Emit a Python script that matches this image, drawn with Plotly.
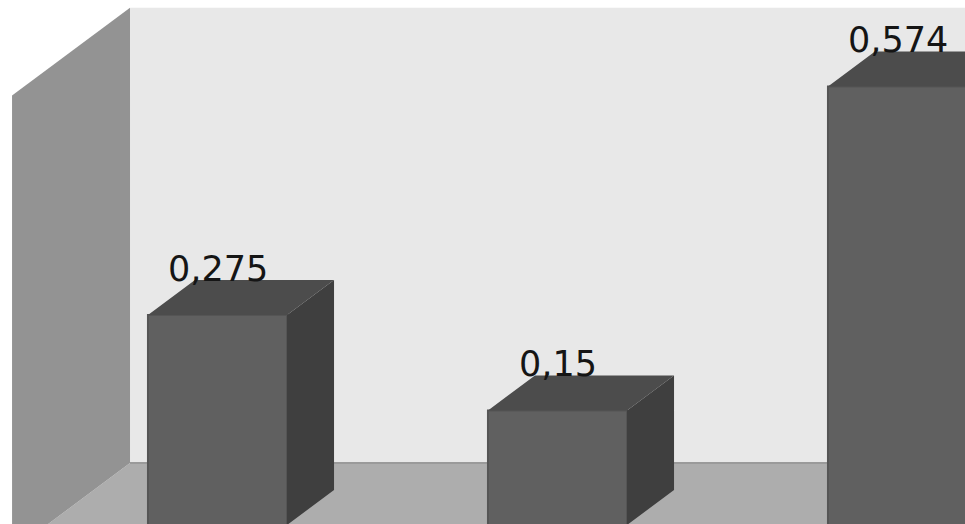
import plotly.graph_objects as go

# ---- data ----
categories = ["1", "2", "3"]
values = [0.275, 0.15, 0.574]
value_labels = ["0,275", "0,15", "0,574"]

# ---- style / geometry (oblique 3D projection) ----
BAR_W = 0.409          # bar width in category units
DX = 47 / 340          # horizontal shift per unit of depth
DY = 35 / 764          # vertical shift per unit of depth
BAR_DEPTH = 1.0
BACK_Z = 1.77          # depth of back wall
FRONT_Z = -0.74        # front edge of left wall / floor
WALL_X = -0.502        # x position of left wall
WALL_TOP = 0.596       # wall height
X_RANGE = [-0.63971, 2.19853]
Y_RANGE = [1 / 764, 525 / 764]

FRONT_C = "#606060"
TOP_C = "#4c4c4c"
SIDE_C = "#3f3f3f"
BACK_WALL_C = "#e8e8e8"
LEFT_WALL_C = "#939393"
FLOOR_C = "#adadad"


def proj(x, y, z):
    return x + z * DX, y + z * DY


def path(points):
    pts = [proj(*p) for p in points]
    return "M " + " L ".join(f"{a:.5f},{b:.5f}" for a, b in pts) + " Z"


pos = list(range(len(categories)))
fig = go.Figure()

# side faces and top faces built from values
side_x, side_y, top_x, top_y = [], [], [], []
for p, v in zip(pos, values):
    r = p + BAR_W / 2
    l = p - BAR_W / 2
    for pt in [(r, v, 0), (r, v, BAR_DEPTH), (r, 0, BAR_DEPTH), (r, 0, 0), (r, v, 0)]:
        a, b = proj(*pt)
        side_x.append(a); side_y.append(b)
    side_x.append(None); side_y.append(None)
    for pt in [(l, v, 0), (r, v, 0), (r, v, BAR_DEPTH), (l, v, BAR_DEPTH), (l, v, 0)]:
        a, b = proj(*pt)
        top_x.append(a); top_y.append(b)
    top_x.append(None); top_y.append(None)

fig.add_trace(go.Bar(
    x=pos, y=values, width=BAR_W,
    marker=dict(color=FRONT_C, line=dict(color="#555555", width=2)),
    hoverinfo="skip", showlegend=False,
))
fig.add_trace(go.Scatter(x=side_x, y=side_y, mode="lines", fill="toself",
                         fillcolor=SIDE_C, line=dict(width=0, color=SIDE_C),
                         hoverinfo="skip", showlegend=False))
fig.add_trace(go.Scatter(x=top_x, y=top_y, mode="lines", fill="toself",
                         fillcolor=TOP_C, line=dict(width=0, color=TOP_C),
                         hoverinfo="skip", showlegend=False))

FAR_X = 4.0
shapes = [
    dict(type="path", layer="below", line=dict(width=0), fillcolor=BACK_WALL_C,
         path=path([(WALL_X, 0, BACK_Z), (FAR_X, 0, BACK_Z), (FAR_X, WALL_TOP, BACK_Z), (WALL_X, WALL_TOP, BACK_Z)])),
    dict(type="path", layer="below", line=dict(width=0), fillcolor=FLOOR_C,
         path=path([(WALL_X, 0, FRONT_Z), (FAR_X, 0, FRONT_Z), (FAR_X, 0, BACK_Z), (WALL_X, 0, BACK_Z)])),
    dict(type="path", layer="below", line=dict(width=0), fillcolor=LEFT_WALL_C,
         path=path([(WALL_X, 0, FRONT_Z), (WALL_X, 0, BACK_Z), (WALL_X, WALL_TOP, BACK_Z), (WALL_X, WALL_TOP, FRONT_Z)])),
]
x0, y0 = proj(WALL_X, 0, BACK_Z)
x1, y1 = proj(FAR_X, 0, BACK_Z)
shapes.append(dict(type="line", layer="below", x0=x0, y0=y0, x1=x1, y1=y1,
                   line=dict(color="#9a9a9a", width=2)))

annotations = []
for p, v, t in zip(pos, values, value_labels):
    annotations.append(dict(
        x=p, y=v + BAR_DEPTH * DY, text=t, showarrow=False,
        xanchor="center", yanchor="bottom", yshift=-11,
        font=dict(family="DejaVu Sans", size=35, color="#151515"),
    ))

fig.update_layout(
    width=965, height=524,
    margin=dict(l=0, r=0, t=0, b=0),
    paper_bgcolor="white", plot_bgcolor="white",
    xaxis=dict(range=X_RANGE, visible=False, fixedrange=True),
    yaxis=dict(range=Y_RANGE, visible=False, fixedrange=True),
    shapes=shapes, annotations=annotations,
    showlegend=False,
)

fig.write_html("out.html")
